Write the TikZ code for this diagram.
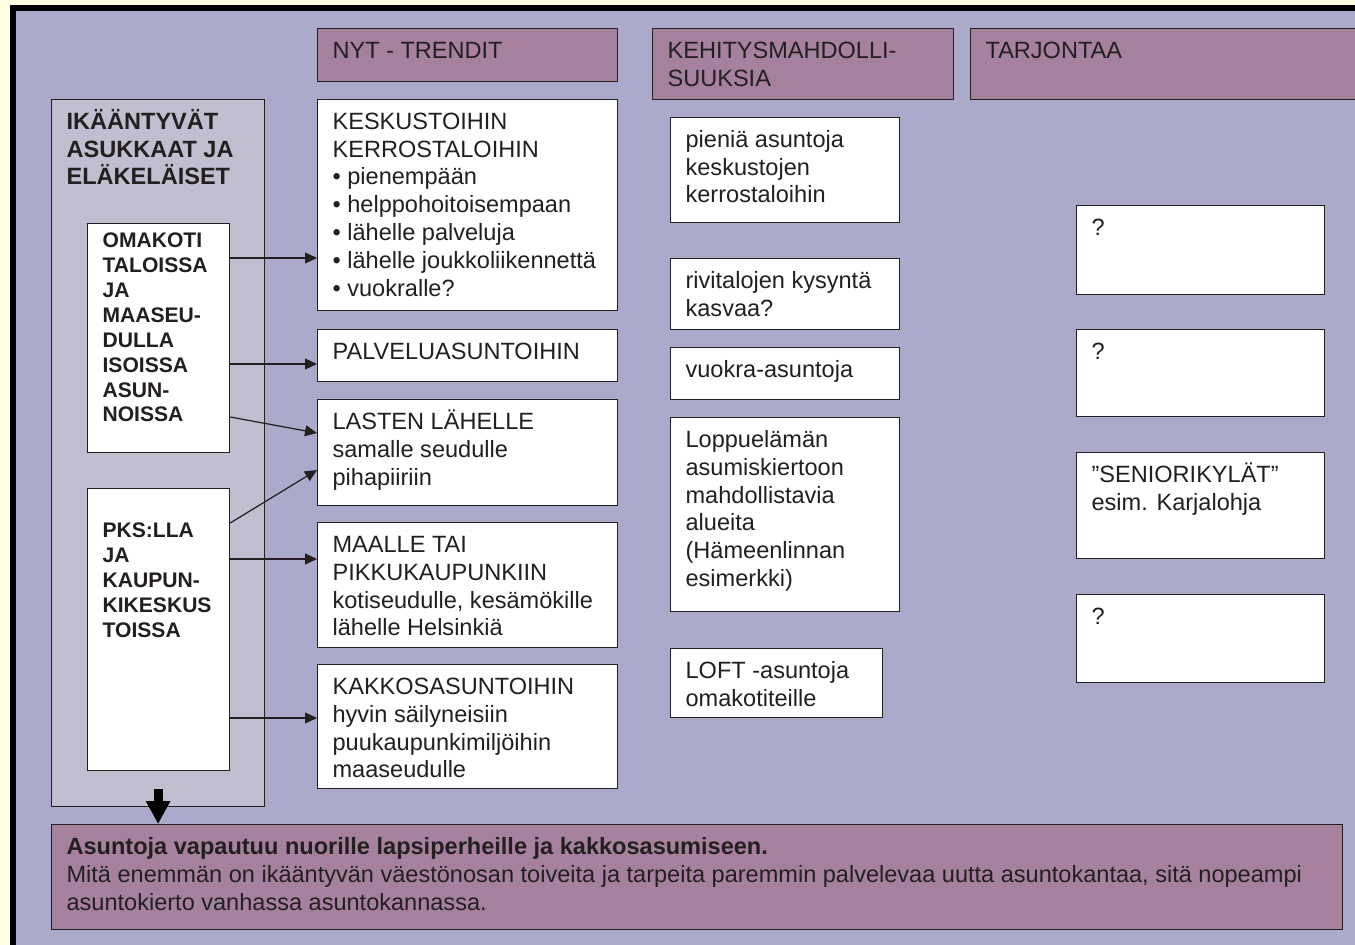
\documentclass[tikz,border=0pt]{standalone}
\usepackage{fontspec}
\setmainfont{Liberation Sans}
\usepackage{xcolor}
\usetikzlibrary{arrows.meta}
\definecolor{bgyellow}{RGB}{255,255,226}
\definecolor{panel}{RGB}{172,170,202}
\definecolor{mauve}{RGB}{166,129,158}
\definecolor{greybox}{RGB}{193,191,207}
\definecolor{ink}{RGB}{35,31,32}
\newlength{\px}
\setlength{\px}{0.02cm}
\newlength{\firstline}
\newcommand{\bodysize}{\fontsize{13.4}{15.8}\selectfont\setlength{\firstline}{17pt}}
\newcommand{\whosize}{\fontsize{12}{14.2}\selectfont\bfseries\setlength{\firstline}{13.5pt}}
\newcommand{\boxtext}[3]{\begin{minipage}[t][#2\px][t]{\dimexpr#1\px-30\px\relax}\rule{0pt}{\firstline}#3\end{minipage}}

\begin{document}
\begin{tikzpicture}[x=0.02cm, y=-0.02cm,
    box/.style={draw=ink, line width=0.7pt, fill=white, anchor=north west,
      inner xsep=0.3cm, inner ysep=0pt, font=\bodysize, text=ink},
    head/.style={box, fill=mauve},
    group/.style={box, fill=greybox, font=\bodysize\bfseries},
    who/.style={box, font=\whosize},
    conn/.style={draw=ink, line width=0.7pt, -{Triangle[length=0.24cm, width=0.22cm]}},
    bigarrow/.style={draw=black, line width=0.18cm, -{Triangle[length=0.46cm, width=0.46cm]}}]
  \useasboundingbox (0,0) rectangle (1355,945);
  \fill[bgyellow] (0,0) rectangle (1355,945);
  \fill[panel] (13,8) rectangle (1360,950);
  \draw[line width=0.11cm, black] (13,950) -- (13,8) -- (1360,8);

  % column heads
  \node[head] (nyt) at (317,28) {\boxtext{300}{53}{NYT - TRENDIT}};
  \node[head] (kehitys) at (652,28) {\boxtext{301}{71}{KEHITYSMAHDOLLI-\\SUUKSIA}};
  \node[head] (tarjonta) at (970,28) {\boxtext{395}{71}{TARJONTAA}};

  % who is moving
  \node[group] (ikaant) at (51,99) {\boxtext{213}{707}{IKÄÄNTYVÄT\\ASUKKAAT JA\\ELÄKELÄISET}};
  \node[who] (omakoti) at (87,223) {\boxtext{142}{229}{OMAKOTI\\TALOISSA\\JA\\MAASEU-\\DULLA\\ISOISSA\\ASUN-\\NOISSA}};
  \node[who] (pks) at (87,488) {\boxtext{142}{282}{\mbox{}\\PKS:LLA\\JA\\KAUPUN-\\KIKESKUS\\TOISSA}};

  % trends
  \node[box] (keskus) at (317,99) {\boxtext{300}{211}{KESKUSTOIHIN\\KERROSTALOIHIN\\• pienempään\\• helppohoitoisempaan\\• lähelle palveluja\\• lähelle joukkoliikennettä\\• vuokralle?}};
  \node[box] (palvelu) at (317,329) {\boxtext{300}{52}{PALVELUASUNTOIHIN}};
  \node[box] (lasten) at (317,399) {\boxtext{300}{106}{LASTEN LÄHELLE\\samalle seudulle\\pihapiiriin}};
  \node[box] (maalle) at (317,522) {\boxtext{300}{125}{MAALLE TAI\\PIKKUKAUPUNKIIN\\kotiseudulle, kesämökille\\lähelle Helsinkiä}};
  \node[box] (kakkos) at (317,664) {\boxtext{300}{124}{KAKKOSASUNTOIHIN\\hyvin säilyneisiin\\puukaupunkimiljöihin\\maaseudulle}};

  % possibilities
  \node[box] (pienia) at (670,117) {\boxtext{229}{105}{pieniä asuntoja\\keskustojen\\kerrostaloihin}};
  \node[box] (rivi) at (670,258) {\boxtext{229}{71}{rivitalojen kysyntä\\kasvaa?}};
  \node[box] (vuokra) at (670,347) {\boxtext{229}{52}{vuokra-asuntoja}};
  \node[box] (loppu) at (670,417) {\boxtext{229}{194}{Loppuelämän\\asumiskiertoon\\mahdollistavia\\alueita\\(Hämeenlinnan\\esimerkki)}};
  \node[box] (loft) at (670,648) {\boxtext{212}{69}{LOFT -asuntoja\\omakotiteille}};

  % supply
  \node[box] (kysy1) at (1076,205) {\boxtext{248}{89}{?}};
  \node[box] (kysy2) at (1076,329) {\boxtext{248}{87}{?}};
  \node[box] (senior) at (1076,452) {\boxtext{248}{106}{”SENIORIKYLÄT”\\esim. Karjalohja}};
  \node[box] (kysy3) at (1076,594) {\boxtext{248}{88}{?}};

  \node[head] (tulos) at (51,824) {\boxtext{1291}{105}{\textbf{Asuntoja vapautuu nuorille lapsiperheille ja kakkosasumiseen.}\\Mitä enemmän on ikääntyvän väestönosan toiveita ja tarpeita paremmin palvelevaa uutta asuntokantaa, sitä nopeampi\\asuntokierto vanhassa asuntokannassa.}};

  % moves
  \draw[conn] (omakoti.east |- 0,258) -- (keskus.west |- 0,258);
  \draw[conn] (omakoti.east |- 0,364) -- (palvelu.west |- 0,364);
  \draw[conn] (omakoti.east |- 0,417) -- (lasten.west |- 0,433);
  \draw[conn] (pks.east |- 0,523) -- (lasten.west |- 0,470);
  \draw[conn] (pks.east |- 0,559) -- (maalle.west |- 0,559);
  \draw[conn] (pks.east |- 0,718) -- (kakkos.west |- 0,718);
  \draw[bigarrow] ([yshift=0.36cm]ikaant.south) -- (ikaant.south |- tulos.north);
\end{tikzpicture}
\end{document}
